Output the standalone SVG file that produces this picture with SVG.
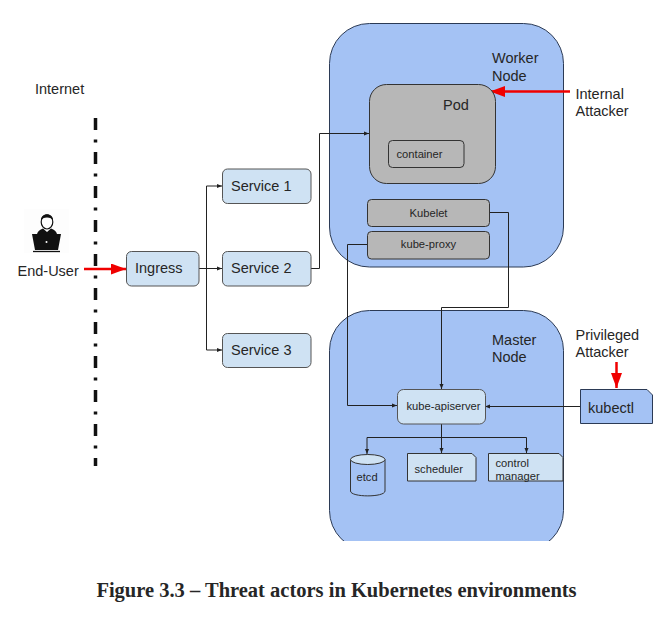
<svg xmlns="http://www.w3.org/2000/svg" width="664" height="635" viewBox="0 0 664 635">
<style>
text{font-family:"Liberation Sans",Arial,sans-serif;fill:#262626}
.l{font-size:14.500px}.s{font-size:11.200px}
.svc{fill:#cfe2f3;stroke:#555;stroke-width:1}
.big{fill:#a4c2f4;stroke:#2b3a55;stroke-width:1}
.gray{fill:#b7b7b7;stroke:#333;stroke-width:1}
.c{fill:none;stroke:#222;stroke-width:1}
.r{fill:none;stroke:#f00000;stroke-width:2.500}
</style>
<defs>
<marker id="a" viewBox="0 0 5 5" refX="5" refY="2.500" markerWidth="5" markerHeight="5" markerUnits="userSpaceOnUse" orient="auto"><path d="M0 0.500L5 2.500L0 4.500z" fill="#222"/></marker>
<marker id="ra" viewBox="0 0 15 11" refX="15" refY="5.500" markerWidth="15" markerHeight="11" markerUnits="userSpaceOnUse" orient="auto"><path d="M0 0L15 5.500L0 11z" fill="#f00000"/></marker>
</defs>
<rect width="664" height="635" fill="#fff"/>
<g id="worker-node"><rect class="big" x="329.500" y="23.500" width="234" height="243.500" rx="40"/><text class="l" x="492" y="63">Worker</text><text class="l" x="492" y="81">Node</text></g>
<g id="master-node"><rect class="big" x="329.500" y="310.500" width="234" height="240" rx="40"/><rect x="320" y="541" width="250" height="20" fill="#fff"/><text class="l" x="492" y="345">Master</text><text class="l" x="492" y="362">Node</text></g>
<g id="internet-boundary"><text class="l" x="35" y="94">Internet</text><path d="M95.500 118V130M95.500 139.500V142.500M95.500 152V164M95.500 173.500V176.500M95.500 186V198M95.500 207.500V210.500M95.500 220V232M95.500 241.500V244.500M95.500 254V266M95.500 275.500V278.500M95.500 288V300M95.500 309.500V312.500M95.500 322V334M95.500 343.500V346.500M95.500 356V368M95.500 377.500V380.500M95.500 390V402M95.500 411.500V414.500M95.500 424V436M95.500 445.500V448.500M95.500 458V466" fill="none" stroke="#111" stroke-width="3.500"/></g>
<g id="connectors">
<path class="c" d="M199 268.500H222" marker-end="url(#a)"/>
<path class="c" d="M206.500 268.500V186H222" marker-end="url(#a)"/>
<path class="c" d="M206.500 268.500V350H222" marker-end="url(#a)"/>
<path class="c" d="M311 268.500H319.500V133.500H369" marker-end="url(#a)"/>
<path class="c" d="M489 212.500H508.500V307.500H441.500V389" marker-end="url(#a)"/>
<path class="c" d="M367 244.500H347.500V405.500H397" marker-end="url(#a)"/>
<path class="c" d="M580 406.500H485" marker-end="url(#a)"/>
<path class="c" d="M441.500 424V453" marker-end="url(#a)"/>
<path class="c" d="M441.500 437.500H367V454" marker-end="url(#a)"/>
<path class="c" d="M441.500 437.500H526.500V453" marker-end="url(#a)"/>
<path class="r" d="M84 269H126" marker-end="url(#ra)"/>
<path class="r" d="M570 91.500H490" marker-end="url(#ra)"/>
<path class="r" d="M616.500 362V388" marker-end="url(#ra)"/>
</g>
<g id="end-user">
<rect x="24" y="209" width="45" height="44" fill="#fdfdfd"/>
<path d="M37 234Q38 230 43 228.500L47 232L51 228.500Q56 230 57 234z" fill="#111"/>
<path d="M32 234H61L58 250H35z" fill="#111"/>
<path d="M33 251.500H60" stroke="#111" stroke-width="1.300" fill="none"/>
<ellipse cx="47" cy="222" rx="5.800" ry="7" fill="#fff" stroke="#111" stroke-width="1.200"/>
<path d="M41 221C40 212 54 212 53 221C52 218 50 217.500 47 217.500C44 217.500 42 218 41 221z" fill="#111"/>
<circle cx="46.500" cy="242" r="1" fill="#fff"/>
<text class="l" x="17.500" y="276">End-User</text>
</g>
<g id="ingress"><rect class="svc" x="126.500" y="251.500" width="72.500" height="34.500" rx="5"/><text class="l" x="135" y="273">Ingress</text></g>
<g id="service-1"><rect class="svc" x="222.500" y="169" width="88.500" height="34.500" rx="5"/><text class="l" x="231" y="191">Service 1</text></g>
<g id="service-2"><rect class="svc" x="222.500" y="251.500" width="88.500" height="34.500" rx="5"/><text class="l" x="231" y="273">Service 2</text></g>
<g id="service-3"><rect class="svc" x="222.500" y="333.500" width="88.500" height="34" rx="5"/><text class="l" x="231" y="355">Service 3</text></g>
<g id="pod"><rect class="gray" x="369.500" y="84.500" width="126" height="99" rx="17"/><text class="l" x="443" y="110">Pod</text></g>
<g id="container"><rect class="gray" x="388.500" y="140.500" width="75.500" height="27" rx="4"/><text class="s" x="396.500" y="158">container</text></g>
<g id="kubelet"><rect class="gray" x="367.500" y="199.500" width="122" height="27" rx="4"/><text class="s" x="428.500" y="217" text-anchor="middle">Kubelet</text></g>
<g id="kube-proxy"><rect class="gray" x="367.500" y="231.500" width="122" height="27.500" rx="4"/><text class="s" x="428.500" y="248" text-anchor="middle">kube-proxy</text></g>
<g id="kube-apiserver"><rect class="svc" x="397.500" y="389.500" width="88" height="34.500" rx="6"/><text class="s" x="406.500" y="410">kube-apiserver</text></g>
<g id="etcd"><path d="M350.500 459.500V491C350.500 497.500 385 497.500 385 491V459.500" fill="#a4c2f4" stroke="#333"/><ellipse cx="367.750" cy="459.500" rx="17.250" ry="5" fill="#cfe2f3" stroke="#333"/><text class="s" x="356.500" y="481">etcd</text></g>
<g id="scheduler"><path d="M407.500 453.500H472L476 457.500V481H407.500z" fill="#cfe2f3" stroke="#333"/><text class="s" x="414.500" y="473">scheduler</text></g>
<g id="control-manager"><path d="M488.500 453.500H559L563 457.500V481H488.500z" fill="#cfe2f3" stroke="#333"/><text class="s" x="495.500" y="467">control</text><text class="s" x="495.500" y="479.500">manager</text></g>
<g id="kubectl"><path d="M580.500 389.500H647L652.500 395V423.500H580.500z" fill="#a4c2f4" stroke="#2b3a55"/><text class="l" x="588" y="413">kubectl</text></g>
<g id="internal-attacker"><text class="l" x="575.500" y="99">Internal</text><text class="l" x="575.500" y="116">Attacker</text></g>
<g id="privileged-attacker"><text class="l" x="575.500" y="340">Privileged</text><text class="l" x="575.500" y="357">Attacker</text></g>
<text x="336.500" y="597" text-anchor="middle" style="font-family:'Liberation Serif','Times New Roman',serif;font-weight:bold;font-size:20.500px;fill:#262626">Figure 3.3 – Threat actors in Kubernetes environments</text>
</svg>
